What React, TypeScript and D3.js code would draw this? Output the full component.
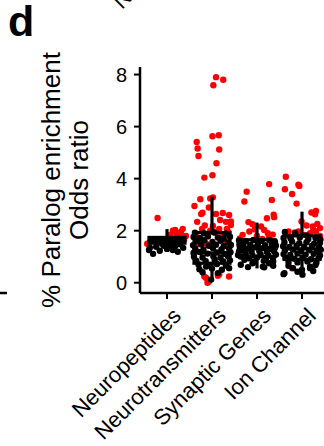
import * as d3 from "d3";

const categories = ["Neuropeptides", "Neurotransmitters", "Synaptic Genes", "Ion Channel"];
const yTicks = [0, 2, 4, 6, 8];

// boxplot summaries per category
const boxLow = [1.2, 0.05, 0.55, 0.3];
const boxQ1 = [1.52, 0.75, 1.0, 0.9];
const boxMedian = [1.63, 1.15, 1.35, 1.3];
const boxQ3 = [1.74, 1.93, 1.65, 1.8];
const boxHigh = [2.06, 3.31, 2.31, 2.73];

// points: [jitter (fraction of step), odds ratio]
const npRed = [
  [-0.21, 2.49], [0.18, 2.03], [0.31, 1.95], [0.42, 1.8], [0.07, 1.84], [0.24, 1.8],
  [0.38, 1.65], [0.11, 1.68], [-0.44, 1.5], [-0.38, 1.57], [0.2, 1.9], [0.36, 1.72],
  [0.35, 2.07], [0.13, 2.0],
];
const npBlack = [
  [-0.4, 1.26], [-0.31, 1.11], [-0.16, 1.23], [0, 1.3], [0.13, 1.26], [0.24, 1.19],
  [0.36, 1.34], [-0.24, 1.38], [-0.07, 1.42], [0.07, 1.38], [-0.38, 1.35], [0.18, 1.4],
  [-0.11, 1.5], [0.29, 1.48],
];
const ntRed = [
  [0.09, 7.9], [0.25, 7.8], [0.03, 7.59], [0.01, 5.63], [0.15, 5.67], [-0.34, 5.41],
  [-0.32, 5.16], [0.16, 5.12], [-0.3, 4.87], [0.1, 4.59], [0.01, 4.13], [-0.17, 4.04],
  [-0.26, 3.21], [0.02, 3.28], [-0.39, 2.95], [-0.21, 2.69], [-0.24, 2.64], [-0.07, 2.89],
  [-0.04, 3.24], [0.09, 2.64], [0.24, 2.68], [0.38, 2.6], [0.18, 2.41], [0.31, 2.34],
  [0.42, 2.22], [0.02, 2.18], [0.16, 2.07], [0.33, 2.07], [0.07, 1.92], [0.24, 1.84],
  [-0.09, 1.84], [-0.33, 2.34], [-0.36, 1.8], [-0.22, 2.07], [0.42, 2.35], [-0.16, 2.2],
  [-0.04, 2.0], [0.36, 1.95], [0.2, 1.7], [-0.27, 1.6], [-0.13, 1.5], [0.31, 1.55],
  [-0.32, 1.49], [-0.13, 0.18], [-0.1, 0.0], [0.16, 0.33], [0.38, 0.24], [-0.17, 0.24],
  [0.13, 0.27], [-0.07, 0.05],
];
const ntBlack = [
  [-0.38, 1.92], [-0.18, 1.9], [0.04, 1.94], [0.3, 1.88],
  [-0.41, 1.76], [-0.27, 1.72], [-0.09, 1.78], [0.13, 1.74], [0.26, 1.7], [0.4, 1.77],
  [-0.34, 1.6], [-0.17, 1.63], [0.01, 1.57], [0.19, 1.61], [0.36, 1.55],
  [-0.42, 1.44], [-0.24, 1.47], [-0.07, 1.42], [0.09, 1.46], [0.26, 1.4], [0.42, 1.45],
  [-0.37, 1.3], [-0.19, 1.27], [0.02, 1.33], [0.21, 1.28], [0.38, 1.31],
  [-0.41, 1.14], [-0.27, 1.18], [-0.1, 1.12], [0.11, 1.16], [0.28, 1.11], [0.41, 1.17],
  [-0.4, 1.0], [-0.21, 0.97], [0.03, 1.02], [0.19, 0.96], [0.36, 1.01],
  [-0.35, 0.85], [-0.14, 0.83], [0.06, 0.88], [0.25, 0.82], [0.4, 0.86],
  [-0.3, 0.7], [-0.1, 0.68], [0.11, 0.72], [0.31, 0.66],
  [-0.28, 0.52], [0.0, 0.55], [0.38, 0.56], [-0.21, 0.4], [0.13, 0.37], [-0.02, 0.12],
  [-0.13, 0.62], [0.22, 0.5],
];
const sgRed = [
  [-0.23, 3.5], [-0.28, 3.12], [0.27, 3.79], [0.33, 3.18], [0.22, 2.48], [0.37, 2.61],
  [0.38, 2.52], [-0.19, 2.33], [-0.1, 2.25], [0.09, 2.16], [0.16, 2.03], [0.24, 1.9],
  [-0.32, 1.84], [-0.17, 1.97], [0.27, 1.75], [0.0, 1.8], [-0.05, 2.05], [0.35, 1.85],
  [-0.38, 1.7], [0.12, 1.68],
];
const sgBlack = [
  [-0.4, 1.62], [-0.25, 1.6], [-0.08, 1.64], [0.1, 1.61], [0.28, 1.63], [0.4, 1.58],
  [-0.39, 1.46], [-0.3, 1.5], [-0.15, 1.45], [0.02, 1.49], [0.18, 1.44], [0.33, 1.48], [0.42, 1.43],
  [-0.38, 1.34], [-0.22, 1.31], [-0.05, 1.36], [0.12, 1.33], [0.3, 1.3], [0.4, 1.35],
  [-0.4, 1.2], [-0.28, 1.23], [-0.12, 1.19], [0.05, 1.22], [0.22, 1.18], [0.38, 1.21],
  [-0.42, 1.07], [-0.25, 1.1], [-0.1, 1.05], [0.08, 1.09], [0.25, 1.06], [0.42, 1.08],
  [-0.36, 1.01], [-0.18, 0.94], [0.0, 0.97], [0.2, 0.93], [0.35, 0.96],
  [-0.28, 0.88], [-0.08, 0.8], [0.15, 0.84], [0.36, 0.82],
  [-0.36, 0.69], [-0.1, 0.75], [0.27, 0.75], [0.13, 0.62], [0.16, 0.59], [0.36, 0.65], [-0.2, 0.6],
];
const icRed = [
  [-0.36, 4.07], [-0.08, 3.77], [-0.06, 3.72], [-0.38, 3.59], [-0.22, 3.41], [-0.12, 3.04],
  [0.21, 2.7], [0.31, 2.76], [0.29, 2.63], [0.34, 2.26], [0.24, 2.16], [0.18, 1.9],
  [-0.08, 1.97], [-0.16, 1.93], [0.04, 1.84], [0.31, 1.97], [-0.27, 1.77], [-0.01, 2.35],
  [0.25, 2.03], [-0.3, 1.97], [0.4, 2.1], [0.1, 2.2], [0.4, 1.8], [-0.22, 0.56],
];
const icBlack = [
  [-0.38, 1.95], [-0.15, 1.9], [0.1, 1.82],
  [-0.41, 1.72], [-0.25, 1.7], [-0.05, 1.74], [0.14, 1.68], [0.3, 1.72], [0.41, 1.66],
  [-0.39, 1.55], [-0.22, 1.58], [-0.06, 1.52], [0.1, 1.56], [0.27, 1.5], [0.4, 1.54],
  [-0.42, 1.4], [-0.28, 1.37], [-0.12, 1.42], [0.05, 1.38], [0.22, 1.41], [0.38, 1.36],
  [-0.38, 1.24], [-0.2, 1.27], [-0.02, 1.22], [0.16, 1.25], [0.33, 1.2], [0.42, 1.27],
  [-0.41, 1.1], [-0.26, 1.07], [-0.1, 1.12], [0.08, 1.08], [0.26, 1.11], [0.4, 1.05],
  [-0.36, 0.95], [-0.17, 0.92], [0.01, 0.97], [0.2, 0.9], [0.37, 0.94],
  [-0.3, 0.8], [-0.1, 0.78], [0.12, 0.82], [0.32, 0.77],
  [-0.39, 0.37], [-0.2, 0.56], [0.0, 0.5], [0.18, 0.62], [-0.41, 0.33], [0.01, 0.31],
  [0.18, 0.56], [-0.3, 0.65], [0.3, 0.68], [-0.1, 0.42], [0.25, 0.45],
];

const redPoints = [npRed, ntRed, sgRed, icRed];
const blackPoints = [npBlack, ntBlack, sgBlack, icBlack];

const font = "'Liberation Sans', Arial, Helvetica, sans-serif";

export default function App() {
  const width = 324;
  const height = 446;
  const left = 140;
  const right = 329;
  const top = 67;
  const bottom = 293;

  const x = d3.scalePoint<string>().domain(categories).range([left, right]).padding(0.6);
  const y = d3.scaleLinear().domain([-0.395, 8.29]).range([bottom, top]);
  const step = x.step();
  const boxW = step * 0.8;

  const dots = (sets: number[][][], color: string) =>
    sets.flatMap((pts, i) =>
      pts.map(([j, v], k) => (
        <circle
          key={`${color}-${i}-${k}`}
          cx={(x(categories[i]) as number) + j * step}
          cy={y(v)}
          r={3.2}
          fill={color}
        />
      ))
    );

  return (
    <svg
      width={width}
      height={height}
      style={{ position: "absolute", left: 0, top: 0, background: "#fff" }}
      fontFamily={font}
    >
      <text x={8} y={36} fontSize={43} fontWeight="bold">d</text>
      <text transform="translate(122,10) rotate(-45)" fontSize={22}>Neuropeptides</text>
      <line x1={0} x2={7} y1={293} y2={293} stroke="#000" strokeWidth={2.5} />

      <g transform="rotate(-90)" textAnchor="middle" fontSize={26}>
        <text x={-180} y={60}>% Paralog enrichment</text>
        <text x={-180} y={88}>Odds ratio</text>
      </g>

      {dots(redPoints, "#ff0000")}
      {dots(blackPoints, "#000000")}

      {categories.map((c, i) => {
        const cx = x(c) as number;
        return (
          <g key={c} stroke="#000" strokeWidth={3.2} fill="none">
            <line x1={cx} x2={cx} y1={y(boxQ3[i])} y2={y(boxHigh[i])} />
            <line x1={cx} x2={cx} y1={y(boxQ1[i])} y2={y(boxLow[i])} />
            <rect x={cx - boxW / 2} y={y(boxQ3[i])} width={boxW} height={y(boxQ1[i]) - y(boxQ3[i])} />
            <line x1={cx - boxW / 2} x2={cx + boxW / 2} y1={y(boxMedian[i])} y2={y(boxMedian[i])} />
          </g>
        );
      })}

      <line x1={left} x2={left} y1={top} y2={bottom} stroke="#000" strokeWidth={2.5} />
      <line x1={left} x2={right} y1={bottom} y2={bottom} stroke="#000" strokeWidth={2.5} />
      {yTicks.map((t) => (
        <g key={t}>
          <line x1={left - 6} x2={left} y1={y(t)} y2={y(t)} stroke="#000" strokeWidth={2} />
          <text x={left - 13} y={y(t)} dy="0.36em" textAnchor="end" fontSize={20}>{t}</text>
        </g>
      ))}
      {categories.map((c) => {
        const cx = x(c) as number;
        return (
          <g key={c}>
            <line x1={cx} x2={cx} y1={bottom} y2={bottom + 6} stroke="#000" strokeWidth={2} />
            <text
              transform={`translate(${cx + 4},306) rotate(-45)`}
              textAnchor="end"
              dy="0.72em"
              fontSize={22}
            >
              {c}
            </text>
          </g>
        );
      })}
    </svg>
  );
}
